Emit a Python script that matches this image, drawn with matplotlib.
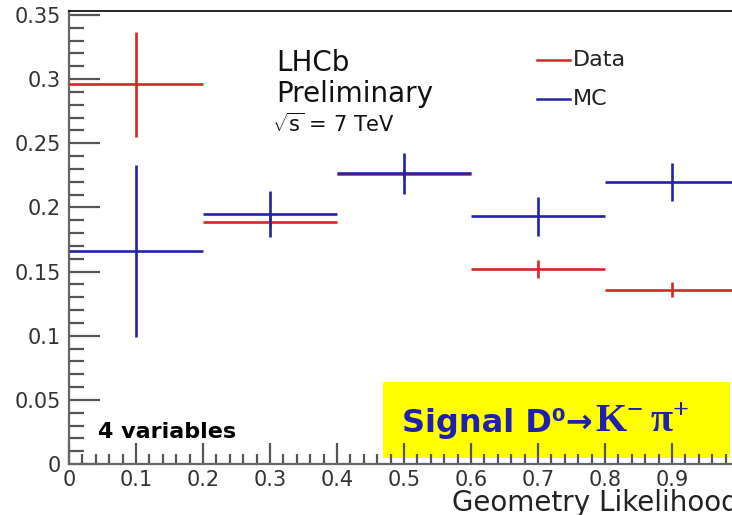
import numpy as np
import matplotlib
matplotlib.use("Agg")
import matplotlib.pyplot as plt
from matplotlib.patches import Rectangle
from matplotlib.ticker import MultipleLocator

plt.rcParams["font.family"] = ["DejaVu Sans"]
plt.rcParams["mathtext.fontset"] = "custom"
plt.rcParams["mathtext.rm"] = "DejaVu Sans"
plt.rcParams["mathtext.bf"] = "Liberation Serif:bold"

# bins of geometry likelihood
bin_centers = [0.1, 0.3, 0.5, 0.7, 0.9]
bin_halfwidth = [0.1, 0.1, 0.1, 0.1, 0.1]
data_vals = [0.296, 0.189, 0.2262, 0.152, 0.136]
data_errs = [0.041, 0.004, 0.004, 0.007, 0.006]
mc_vals = [0.166, 0.195, 0.2268, 0.193, 0.220]
mc_errs = [0.067, 0.018, 0.016, 0.015, 0.015]

RED = "#d42828"
BLUE = "#2222aa"

fig = plt.figure(figsize=(7.32, 5.15), dpi=100)
ax = fig.add_axes([69 / 732, 1 - 464 / 515, 670 / 732, 453 / 515])

ax.errorbar(bin_centers, data_vals, xerr=bin_halfwidth, yerr=data_errs, fmt="none",
            ecolor=RED, elinewidth=1.9, capsize=0, zorder=3)
ax.errorbar(bin_centers, mc_vals, xerr=bin_halfwidth, yerr=mc_errs, fmt="none",
            ecolor=BLUE, elinewidth=1.9, capsize=0, zorder=4)

ax.set_xlim(0, 1.0)
ax.set_ylim(0, 0.3531)
ax.xaxis.set_minor_locator(MultipleLocator(0.02))
ax.yaxis.set_minor_locator(MultipleLocator(0.01))
ax.set_xticks(np.arange(0, 1.0, 0.1))
ax.set_xticklabels(["0", "0.1", "0.2", "0.3", "0.4", "0.5", "0.6", "0.7", "0.8", "0.9"])
ax.set_yticks(np.arange(0, 0.36, 0.05))
ax.set_yticklabels(["0", "0.05", "0.1", "0.15", "0.2", "0.25", "0.3", "0.35"])

ax.tick_params(axis="both", which="both", direction="in", colors="#555555",
               labelcolor="#333333", labelsize=15, width=1.6)
ax.tick_params(axis="y", which="major", length=22, pad=6, right=False)
ax.tick_params(axis="y", which="minor", length=11, right=False)
ax.tick_params(axis="x", which="major", length=15, pad=4, top=False)
ax.tick_params(axis="x", which="minor", length=7, top=False)

for side in ["left", "bottom"]:
    ax.spines[side].set_color("#666666")
    ax.spines[side].set_linewidth(1.6)
ax.spines["top"].set_color("black")
ax.spines["top"].set_linewidth(1.2)
ax.spines["right"].set_visible(False)

# axis title, starts at 0.57 and runs off the right edge like the original
ax.text(0.572, -0.104, "Geometry Likelihood", transform=ax.transAxes, fontsize=20,
        color="#222222", va="baseline", ha="left")

# annotations
ax.text(0.310, 0.868, "LHCb", transform=ax.transAxes, fontsize=20, color="#111111",
        va="baseline")
ax.text(0.310, 0.800, "Preliminary", transform=ax.transAxes, fontsize=20, color="#111111",
        va="baseline")
ax.text(0.303, 0.733, r"$\sqrt{\mathrm{s}}$ = 7 TeV", transform=ax.transAxes, fontsize=15,
        color="#111111", va="baseline")

# legend entries
ax.plot([0.698, 0.748], [0.892, 0.892], transform=ax.transAxes, color=RED, lw=1.8)
ax.plot([0.698, 0.748], [0.806, 0.806], transform=ax.transAxes, color=BLUE, lw=1.8)
ax.text(0.752, 0.892, "Data", transform=ax.transAxes, fontsize=16, va="center", color="#222222")
ax.text(0.752, 0.806, "MC", transform=ax.transAxes, fontsize=16, va="center", color="#222222")

ax.add_patch(Rectangle((0.469, 0.0132), 0.518, 0.168, transform=ax.transAxes,
                       facecolor="#ffff00", edgecolor="none", zorder=1))
sig = ax.text(0.497, 0.0706, "Signal D\u2070\u2192", transform=ax.transAxes, fontsize=23,
              fontweight="bold", color="#2020b0", va="baseline", zorder=5)
fig.canvas.draw()
bb = sig.get_window_extent()
x_end = ax.transAxes.inverted().transform((bb.x1, bb.y0))[0]
ax.text(x_end + 0.004, 0.0706, r"$\mathbf{K^{-}\,\pi^{+}}$", transform=ax.transAxes,
        fontsize=29, color="#2020b0", va="baseline", zorder=5)

ax.text(0.043, 0.0574, "4 variables", transform=ax.transAxes, fontsize=16,
        fontweight="bold", color="black", va="baseline")

fig.savefig("out.png", dpi=100)
